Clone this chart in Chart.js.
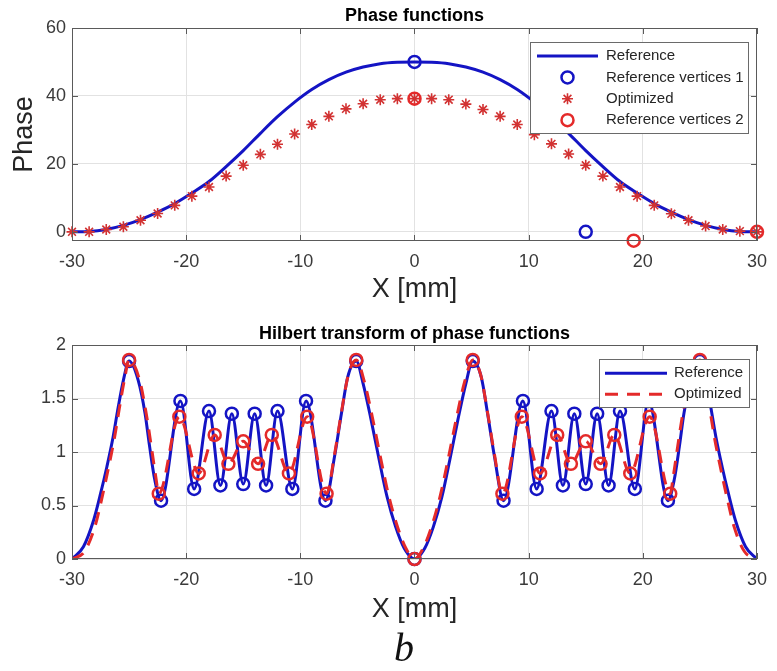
<!DOCTYPE html>
<html><head><meta charset="utf-8">
<script src="https://cdn.jsdelivr.net/npm/chart.js@4"></script>
<style>
html,body{margin:0;padding:0;background:#fff;}
#wrap{position:relative;width:777px;height:671px;overflow:hidden;background:#fff;}
canvas{position:absolute;left:0;}
#c1{top:0;width:777px;height:320px;}
#c2{top:320px;width:777px;height:310px;}
#lbl{position:absolute;left:394px;top:628px;font:italic 40px "Liberation Serif","Times New Roman",serif;line-height:40px;color:#111;}
</style></head><body>
<div id="wrap">
<canvas id="c1" width="777" height="320"></canvas>
<canvas id="c2" width="777" height="310"></canvas>
<div id="lbl">b</div>
</div>
<script>
// ---------- data: Phase functions ----------
const phaseX = [-30,-28.5,-27,-25.5,-24,-22.5,-21,-19.5,-18,-16.5,-15,-13.5,-12,-10.5,-9,-7.5,-6,-4.5,-3,-1.5,0,1.5,3,4.5,6,7.5,9,10.5,12,13.5,15,16.5,18,19.5,21,22.5,24,25.5,27,28.5,30];
const refPhase = [0,0.1,0.7,1.9,3.6,5.8,8.3,11.4,14.8,19.2,23.9,29,33.9,38.2,41.9,44.8,47,48.5,49.5,49.9,50,49.9,49.5,48.5,47,44.8,41.9,38.2,33.9,29,23.9,19.2,14.8,11.4,8.3,5.8,3.6,1.9,0.7,0.1,0];
const optPhase = [0,0,0.7,1.5,3.4,5.4,7.8,10.5,13.2,16.4,19.6,22.8,25.8,28.8,31.6,34,36.2,37.7,38.9,39.2,39.2,39.2,38.9,37.6,36,34,31.6,28.6,25.9,22.9,19.6,16.4,13.2,10.5,7.8,5.3,3.4,1.7,0.7,0.2,0];
const vert1X = [0, 15];
const vert1Y = [50, 0];
const vert2X = [0, 19.2, 30];
const vert2Y = [39.2, -2.6, 0];
const xTicks = [-30,-20,-10,0,10,20,30];
const phaseYTicks = [0,20,40,60];

// ---------- data: Hilbert transform ----------
const hRefX = [-30,-29,-28.1,-27.5,-26.95,-26.4,-25.95,-25.5,-25,-24.2,-23.6,-23.2,-22.75,-22.2,-20.5,-19.3,-18,-17,-16,-15,-14,-13,-12,-10.7,-9.5,-7.8,-7.0,-6.4,-5.85,-5.1,-4.5,-3.8,-3.1,-2.4,-1.65,-0.9,0,0.9,1.65,2.4,3.1,3.8,4.5,5.1,5.85,6.4,7.0,7.8,9.5,10.7,12,13,14,15,16,17,18,19.3,20.5,22.2,22.75,23.2,23.6,24.2,25,25.5,25.95,26.4,26.95,27.5,28.1,29,30];
const hRefY = [0,0.115,0.365,0.61,0.86,1.14,1.42,1.67,1.85,1.67,1.36,1.05,0.74,0.545,1.477,0.655,1.383,0.688,1.358,0.70,1.358,0.688,1.383,0.655,1.477,0.545,0.96,1.36,1.70,1.85,1.64,1.30,0.93,0.58,0.30,0.10,0,0.10,0.30,0.58,0.93,1.30,1.64,1.85,1.70,1.36,0.96,0.545,1.477,0.655,1.383,0.688,1.358,0.70,1.358,0.688,1.383,0.655,1.477,0.545,0.74,1.05,1.36,1.67,1.85,1.67,1.42,1.14,0.86,0.61,0.365,0.115,0];
const hOptX = [-30,-28.9,-28,-27.4,-26.85,-26.3,-25.85,-25.4,-25,-24.1,-23.5,-23.05,-22.65,-22.4,-20.6,-18.9,-17.5,-16.3,-15,-13.7,-12.5,-11.0,-9.4,-7.7,-7.0,-6.4,-5.8,-5.1,-4.4,-3.7,-3.0,-2.3,-1.55,-0.8,0,0.8,1.55,2.3,3.0,3.7,4.4,5.1,5.8,6.4,7.0,7.7,9.4,11.0,12.5,13.7,15,16.3,17.5,18.9,20.6,22.4,22.65,23.05,23.5,24.1,25,25.4,25.85,26.3,26.85,27.4,28,28.9,30];
const hOptY = [0,0.07,0.30,0.56,0.83,1.12,1.41,1.68,1.86,1.68,1.36,1.05,0.76,0.61,1.33,0.80,1.16,0.89,1.10,0.89,1.16,0.80,1.33,0.61,0.98,1.37,1.72,1.86,1.66,1.33,0.96,0.61,0.32,0.11,0,0.11,0.32,0.61,0.96,1.33,1.66,1.86,1.72,1.37,0.98,0.61,1.33,0.80,1.16,0.89,1.10,0.89,1.16,0.80,1.33,0.61,0.76,1.05,1.36,1.68,1.86,1.68,1.41,1.12,0.83,0.56,0.30,0.07,0];
const hRefVX = [-25,-22.2,-20.5,-19.3,-18,-17,-16,-15,-14,-13,-12,-10.7,-9.5,-7.8,-5.1,0,5.1,7.8,9.5,10.7,12,13,14,15,16,17,18,19.3,20.5,22.2,25];
const hRefVY = [1.85,0.545,1.477,0.655,1.383,0.688,1.358,0.70,1.358,0.688,1.383,0.655,1.477,0.545,1.85,0,1.85,0.545,1.477,0.655,1.383,0.688,1.358,0.70,1.358,0.688,1.383,0.655,1.477,0.545,1.85];
const hOptVX = [-25,-22.4,-20.6,-18.9,-17.5,-16.3,-15,-13.7,-12.5,-11.0,-9.4,-7.7,-5.1,0,5.1,7.7,9.4,11.0,12.5,13.7,15,16.3,17.5,18.9,20.6,22.4,25];
const hOptVY = [1.86,0.61,1.33,0.80,1.16,0.89,1.10,0.89,1.16,0.80,1.33,0.61,1.86,0,1.86,0.61,1.33,0.80,1.16,0.89,1.10,0.89,1.16,0.80,1.33,0.61,1.86];
const hilbYTicks = [0,0.5,1,1.5,2];

// ---------- styling ----------
const BLUE = '#1414c4', RED = '#e42a2a', STAR = '#d23232';
const FONT = '"Liberation Sans", Arial, Helvetica, sans-serif';
Chart.defaults.font.family = FONT;

function pts(xs, ys){ return xs.map((x,i)=>({x:x, y:ys[i]})); }

function drawMarker(ctx, style, x, y, r, color, lw){
  ctx.save();
  ctx.strokeStyle = color; ctx.lineWidth = lw; ctx.setLineDash([]);
  ctx.beginPath();
  if (style === 'star') {
    const d = r * Math.SQRT1_2;
    ctx.moveTo(x, y-r); ctx.lineTo(x, y+r);
    ctx.moveTo(x-r, y); ctx.lineTo(x+r, y);
    ctx.moveTo(x-d, y-d); ctx.lineTo(x+d, y+d);
    ctx.moveTo(x-d, y+d); ctx.lineTo(x+d, y-d);
  } else {
    ctx.arc(x, y, r, 0, Math.PI*2);
  }
  ctx.stroke();
  ctx.restore();
}

const decor = {
  id: 'decor',
  afterDraw(chart, args, o) {
    const ctx = chart.ctx, a = chart.chartArea;
    const xs = chart.scales.x, ys = chart.scales.y;
    ctx.save();
    ctx.strokeStyle = o.boxColor; ctx.lineWidth = 1;
    ctx.strokeRect(Math.round(a.left)+0.5, Math.round(a.top)+0.5, Math.round(a.right-a.left)-1, Math.round(a.bottom-a.top)-1);
    ctx.beginPath();
    xs.ticks.forEach(t => {
      const p = Math.round(xs.getPixelForValue(t.value)) + 0.5;
      ctx.moveTo(p, a.bottom); ctx.lineTo(p, a.bottom - o.tickLen);
      ctx.moveTo(p, a.top); ctx.lineTo(p, a.top + o.tickLen);
    });
    ys.ticks.forEach(t => {
      const p = Math.round(ys.getPixelForValue(t.value)) + 0.5;
      ctx.moveTo(a.left, p); ctx.lineTo(a.left + o.tickLen, p);
      ctx.moveTo(a.right, p); ctx.lineTo(a.right - o.tickLen, p);
    });
    ctx.stroke();
    // title
    ctx.fillStyle = '#000';
    ctx.font = 'bold 18px ' + FONT;
    ctx.textAlign = 'center'; ctx.textBaseline = 'middle';
    ctx.fillText(o.title, (a.left + a.right)/2, a.top - o.titleGap);
    // legend
    const L = o.legend;
    ctx.fillStyle = '#fff';
    ctx.fillRect(L.x, L.y, L.w, L.h);
    ctx.strokeStyle = L.border; ctx.lineWidth = 1;
    ctx.strokeRect(L.x + 0.5, L.y + 0.5, L.w, L.h);
    let row = 0;
    chart.data.datasets.forEach(ds => {
      if (ds.hideInLegend) return;
      const cy = L.y + L.firstRow + row * L.rowH;
      row++;
      if (ds.showLine) {
        ctx.save();
        ctx.beginPath();
        ctx.setLineDash(ds.borderDash || []);
        ctx.strokeStyle = ds.borderColor; ctx.lineWidth = ds.borderWidth;
        ctx.moveTo(L.x + L.sampleL, cy); ctx.lineTo(L.x + L.sampleR, cy);
        ctx.stroke();
        ctx.restore();
      } else {
        drawMarker(ctx, ds.pointStyle, L.x + (L.sampleL + L.sampleR)/2, cy, ds.pointRadius, ds.borderColor, ds.pointBorderWidth);
      }
      ctx.fillStyle = L.textColor;
      ctx.font = L.font;
      ctx.textAlign = 'left'; ctx.textBaseline = 'middle';
      ctx.fillText(ds.label, L.x + L.textX, cy);
    });
    ctx.restore();
  }
};

function xScale(axisHeight, titlePad){
  return {
    type: 'linear', min: -30, max: 30,
    afterBuildTicks: s => { s.ticks = xTicks.map(v => ({value: v})); },
    afterFit: s => { s.height = axisHeight; },
    grid: {color: '#e2e2e2', lineWidth: 1, drawTicks: false},
    border: {display: false},
    ticks: {padding: 10, color: '#3a3a3a', font: {size: 18}, maxRotation: 0, autoSkip: false, callback: v => String(v)},
    title: {display: true, text: 'X [mm]', color: '#262626', font: {size: 27}, padding: {top: 0, bottom: titlePad}}
  };
}
function yScale(min, max, tickArr, title){
  return {
    type: 'linear', min: min, max: max,
    afterBuildTicks: s => { s.ticks = tickArr.map(v => ({value: v})); },
    afterFit: s => { s.width = 72; },
    grid: {color: '#e2e2e2', lineWidth: 1, drawTicks: false},
    border: {display: false},
    ticks: {padding: 6, color: '#3a3a3a', font: {size: 18}, autoSkip: false, callback: v => String(v)},
    title: title ? {display: true, text: title, color: '#262626', font: {size: 27}, padding: {top: 8, bottom: 0}} : {display: false}
  };
}

new Chart(document.getElementById('c1'), {
  type: 'scatter',
  data: { datasets: [
    {label: 'Reference', data: pts(phaseX, refPhase), showLine: true, borderColor: BLUE, borderWidth: 3,
     pointRadius: 0, cubicInterpolationMode: 'monotone', order: 3},
    {label: 'Reference vertices 1', data: pts(vert1X, vert1Y), showLine: false, pointStyle: 'circle', pointRadius: 6,
     pointBorderWidth: 2.5, borderColor: BLUE, backgroundColor: 'rgba(0,0,0,0)', pointBackgroundColor: 'rgba(0,0,0,0)', order: 2, clip: 12},
    {label: 'Optimized', data: pts(phaseX, optPhase), showLine: false, pointStyle: 'star', pointRadius: 5.5,
     pointBorderWidth: 1.6, borderColor: STAR, backgroundColor: STAR, order: 1, clip: 12},
    {label: 'Reference vertices 2', data: pts(vert2X, vert2Y), showLine: false, pointStyle: 'circle', pointRadius: 6,
     pointBorderWidth: 2.5, borderColor: RED, backgroundColor: 'rgba(0,0,0,0)', pointBackgroundColor: 'rgba(0,0,0,0)', order: 0, clip: 12}
  ]},
  options: {
    responsive: false, animation: false, events: [],
    layout: {padding: {top: 28, right: 11, left: 0, bottom: 0}},
    scales: { x: xScale(79, 14), y: yScale(-2.7, 60, phaseYTicks, 'Phase') },
    plugins: {
      legend: {display: false}, tooltip: {enabled: false},
      decor: {
        boxColor: '#5a5a5a', tickLen: 6, title: 'Phase functions', titleGap: 12,
        legend: {x: 530, y: 42, w: 218, h: 91, firstRow: 14, rowH: 21.4, sampleL: 7, sampleR: 68, textX: 76,
                 border: '#6a6a6a', textColor: '#262626', font: '15px ' + FONT}
      }
    }
  },
  plugins: [decor]
});

new Chart(document.getElementById('c2'), {
  type: 'scatter',
  data: { datasets: [
    {label: 'Reference', data: pts(hRefX, hRefY), showLine: true, borderColor: BLUE, borderWidth: 3,
     pointRadius: 0, cubicInterpolationMode: 'monotone', order: 3},
    {label: 'Optimized', data: pts(hOptX, hOptY), showLine: true, borderColor: RED, borderWidth: 3, borderDash: [13, 9],
     pointRadius: 0, cubicInterpolationMode: 'monotone', order: 1},
    {label: 'Reference vertices', hideInLegend: true, data: pts(hRefVX, hRefVY), showLine: false, pointStyle: 'circle', pointRadius: 6,
     pointBorderWidth: 2.5, borderColor: BLUE, backgroundColor: 'rgba(0,0,0,0)', pointBackgroundColor: 'rgba(0,0,0,0)', order: 2, clip: 12},
    {label: 'Optimized vertices', hideInLegend: true, data: pts(hOptVX, hOptVY), showLine: false, pointStyle: 'circle', pointRadius: 6,
     pointBorderWidth: 2.5, borderColor: RED, backgroundColor: 'rgba(0,0,0,0)', pointBackgroundColor: 'rgba(0,0,0,0)', order: 0, clip: 12}
  ]},
  options: {
    responsive: false, animation: false, events: [],
    layout: {padding: {top: 25, right: 11, left: 0, bottom: 0}},
    scales: { x: xScale(71, 4), y: yScale(0, 2, hilbYTicks, null) },
    plugins: {
      legend: {display: false}, tooltip: {enabled: false},
      decor: {
        boxColor: '#5a5a5a', tickLen: 6, title: 'Hilbert transform of phase functions', titleGap: 11,
        legend: {x: 599, y: 39, w: 150, h: 48, firstRow: 14.3, rowH: 21, sampleL: 6, sampleR: 68, textX: 75,
                 border: '#6a6a6a', textColor: '#262626', font: '15px ' + FONT}
      }
    }
  },
  plugins: [decor]
});
</script>
</body></html>
